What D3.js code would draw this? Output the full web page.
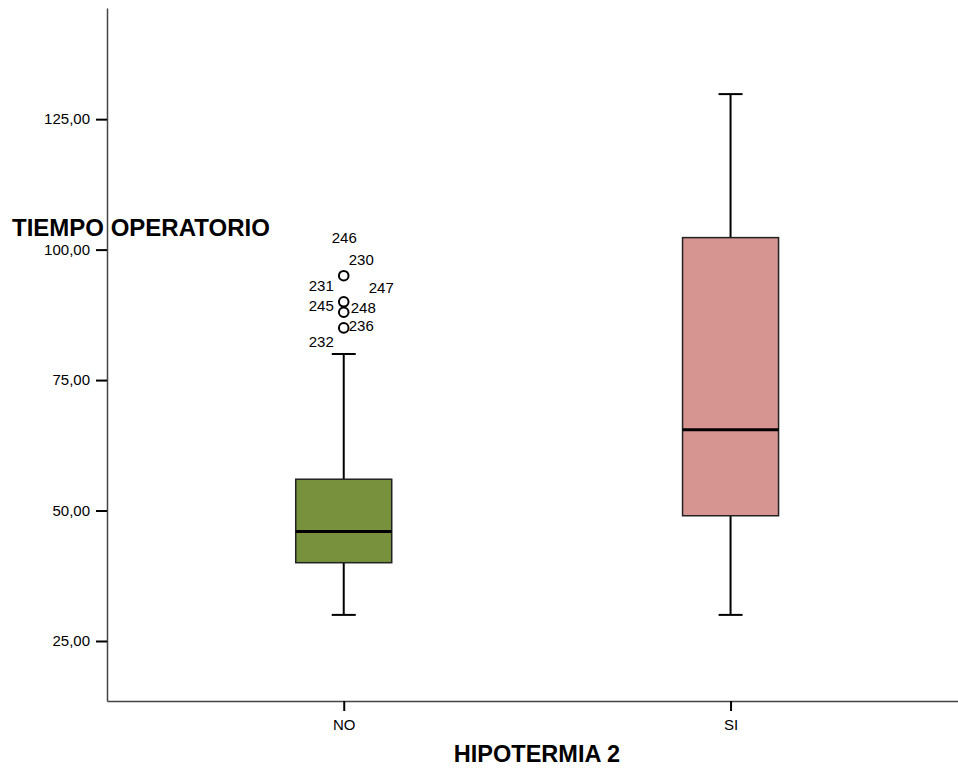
<html>
<head>
  <meta charset='utf-8' />
  <style>
    body { margin: 0; padding: 0; background: white; }
    text { font-family: 'Liberation Sans', Arial, sans-serif; }
  </style>
</head>
<body>
  <svg width='958' height='774'></svg>
</body>

<script src="https://d3js.org/d3.v7.min.js"></script>

<script>
///////////////////
/// Data
///////////////////

  categories = ['NO', 'SI'];
  whiskerLow = [30, 30];
  q1 = [40, 49];
  median = [46, 65.5];
  q3 = [56, 102.3];
  whiskerHigh = [80, 129.8];

  // outliers (only the NO group has them)
  outlierValues = [95, 90, 88, 85];
  outlierCases = [['246', '230'], ['231', '247', '245'], ['248'], ['236', '232']];

  yTicks = [25, 50, 75, 100, 125];

  // label offsets from the circle centre, same order as outlierCases
  labelOffsets = [
    [[-12, -33], [5, -11]],
    [[-35, -11], [25, -9], [-35, 9]],
    [[7, 1]],
    [[5, 3], [-35, 19]]
  ];

  colors = ['#77913d', '#d79592'];

///////////////////
/// Scales
///////////////////

  svg = d3.select('svg');

  x = d3.scalePoint()
    .domain(categories)
    .range([107, 958])
    .padding(0.6)
    .align(0.51);

  y = d3.scaleLinear()
    .domain([13.5, 146.3])
    .range([701, 8]);

  boxW = 96;
  capW = 24;

  fmt = d3.formatLocale({decimal: ',', thousands: '.', grouping: [3], currency: ['', '']}).format('.2f');

///////////////////
/// Axes
///////////////////

  yAxis = svg.append('g')
    .attr('transform', 'translate(107,0)')
    .call(d3.axisLeft(y).tickValues(yTicks).tickFormat(fmt).tickSize(11).tickSizeOuter(0).tickPadding(6));

  xAxis = svg.append('g')
    .attr('transform', 'translate(0,701)')
    .call(d3.axisBottom(x).tickSize(10).tickSizeOuter(0).tickPadding(8));

  svg.selectAll('.domain').attr('stroke', '#444').attr('stroke-width', 1.5);
  svg.selectAll('.tick line').attr('stroke', '#000').attr('stroke-width', 2);
  svg.selectAll('.tick text')
    .attr('fill', '#000')
    .style('font-size', '15px')
    .style('font-family', "'Liberation Sans', Arial, sans-serif");

///////////////////
/// Boxes
///////////////////

  boxes = svg.append('g').attr('id', 'boxes');

  g = boxes.selectAll('g')
    .data(categories)
    .enter().append('g');

  // whiskers
  g.append('line')
    .attr('x1', d => x(d)).attr('x2', d => x(d))
    .attr('y1', (d, i) => y(q3[i])).attr('y2', (d, i) => y(whiskerHigh[i]))
    .attr('stroke', '#000').attr('stroke-width', 2);

  g.append('line')
    .attr('x1', d => x(d)).attr('x2', d => x(d))
    .attr('y1', (d, i) => y(q1[i])).attr('y2', (d, i) => y(whiskerLow[i]))
    .attr('stroke', '#000').attr('stroke-width', 2);

  // caps
  g.append('line')
    .attr('x1', d => x(d) - capW / 2).attr('x2', d => x(d) + capW / 2)
    .attr('y1', (d, i) => y(whiskerHigh[i])).attr('y2', (d, i) => y(whiskerHigh[i]))
    .attr('stroke', '#000').attr('stroke-width', 2);

  g.append('line')
    .attr('x1', d => x(d) - capW / 2).attr('x2', d => x(d) + capW / 2)
    .attr('y1', (d, i) => y(whiskerLow[i])).attr('y2', (d, i) => y(whiskerLow[i]))
    .attr('stroke', '#000').attr('stroke-width', 2);

  // box
  g.append('rect')
    .attr('x', d => x(d) - boxW / 2)
    .attr('width', boxW)
    .attr('y', (d, i) => y(q3[i]))
    .attr('height', (d, i) => y(q1[i]) - y(q3[i]))
    .attr('fill', (d, i) => colors[i])
    .attr('stroke', '#222')
    .attr('stroke-width', 1.5);

  // median
  g.append('line')
    .attr('x1', d => x(d) - boxW / 2).attr('x2', d => x(d) + boxW / 2)
    .attr('y1', (d, i) => y(median[i])).attr('y2', (d, i) => y(median[i]))
    .attr('stroke', '#000').attr('stroke-width', 3);

///////////////////
/// Outliers
///////////////////

  outl = svg.append('g').attr('id', 'outliers');

  outl.selectAll('circle')
    .data(outlierValues)
    .enter().append('circle')
    .attr('cx', x('NO'))
    .attr('cy', d => y(d))
    .attr('r', 4.8)
    .attr('fill', 'white')
    .attr('stroke', '#000')
    .attr('stroke-width', 2);

  outlierValues.forEach((v, i) => {
    outlierCases[i].forEach((c, j) => {
      outl.append('text')
        .attr('x', x('NO') + labelOffsets[i][j][0])
        .attr('y', y(v) + labelOffsets[i][j][1])
        .style('font-size', '15px')
        .text(c);
    });
  });

///////////////////
/// Titles
///////////////////

  svg.append('text')
    .attr('x', 12)
    .attr('y', 236)
    .style('font', "bold 24px 'Liberation Sans', Arial, sans-serif")
    .text('TIEMPO OPERATORIO');

  svg.append('text')
    .attr('x', 537)
    .attr('y', 762)
    .attr('text-anchor', 'middle')
    .style('font', "bold 23.5px 'Liberation Sans', Arial, sans-serif")
    .text('HIPOTERMIA 2');

</script>
</html>
